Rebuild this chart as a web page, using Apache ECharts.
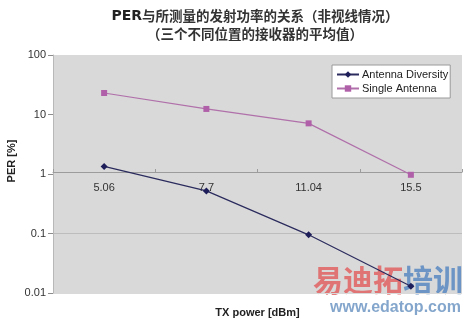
<!DOCTYPE html>
<html>
<head>
<meta charset="utf-8">
<script src="https://cdn.jsdelivr.net/npm/echarts@6/dist/echarts.min.js"></script>
<style>
  html, body { margin: 0; padding: 0; background: #fff; }
  #chart { width: 468px; height: 323px; }
</style>
</head>
<body>
<div id="chart"></div>
<script>
// ─── Data ───────────────────────────────────────────────────────────────────
const categories = ['5.06', '7.7', '11.04', '15.5'];
const antennaDiversity = [1.34, 0.52, 0.095, 0.013];
const singleAntenna = [23, 12.4, 7.1, 0.97];
const yTicks = [0.01, 0.1, 1, 10, 100];

const chart = echarts.init(document.getElementById('chart'), null, { renderer: 'canvas' });

const FONT = 'Liberation Sans, Arial, sans-serif';
const CJK = '"Noto Sans CJK SC", sans-serif';

chart.setOption({
  backgroundColor: '#ffffff',
  animation: false,
  title: {
    left: 250,
    top: 2,
    textAlign: 'center',
    text: '{b|PER}{c|与所测量的发射功率的关系（非视线情况）}\n{d|（三个不同位置的接收器的平均值）}',
    textStyle: {
      lineHeight: 18,
      rich: {
        b: { fontFamily: 'DejaVu Sans, sans-serif', fontWeight: 'bold', fontSize: 14, color: '#222' },
        c: { fontFamily: CJK, fontSize: 13.5, color: '#333' },
        d: { fontFamily: CJK, fontSize: 13.5, color: '#333' },
      },
    },
  },
  legend: {
    orient: 'vertical',
    left: 332,
    top: 65,
    padding: [4, 2, 4, 4],
    itemGap: 3,
    itemWidth: 22,
    itemHeight: 8,
    backgroundColor: '#ffffff',
    borderColor: '#9a9a9a',
    borderWidth: 1,
    textStyle: { fontFamily: FONT, fontSize: 11, color: '#222', padding: [0, 0, 0, -2] },
    data: ['Antenna Diversity', 'Single Antenna'],
  },
  grid: {
    left: 53, right: 6, top: 55, bottom: 30,
    outerBoundsMode: 'none',
    containLabel: false,
    show: true,
    backgroundColor: '#d9d9d9',
    borderWidth: 0,
  },
  xAxis: {
    type: 'category',
    data: categories,
    boundaryGap: true,
    position: 'bottom',
    offset: -121,
    name: 'TX power [dBm]',
    nameLocation: 'middle',
    nameGap: 135,
    nameTextStyle: { fontFamily: FONT, fontWeight: 'bold', fontSize: 11, color: '#222' },
    axisLine: { show: true, lineStyle: { color: '#9c9c9c', width: 1 } },
    axisTick: { show: true, inside: true, length: 3, lineStyle: { color: '#9c9c9c' } },
    axisLabel: { fontFamily: FONT, fontSize: 11, color: '#333', margin: 10 },
    splitLine: { show: false },
  },
  yAxis: {
    type: 'log',
    logBase: 10,
    min: 0.01,
    max: 100,
    axisLine: { show: true, lineStyle: { color: '#b8b8b8' } },
    axisTick: { show: true, length: 5, lineStyle: { color: '#8c8c8c' } },
    axisLabel: {
      fontFamily: FONT, fontSize: 11, color: '#333', margin: 7,
      formatter: v => {
        const t = yTicks.find(k => Math.abs(k - v) / k < 1e-6);
        return t === undefined ? '' : String(t);
      },
    },
    splitLine: {
      show: true,
      lineStyle: { color: ['#d9d9d9', '#bdbdbd', '#d9d9d9', '#d9d9d9', '#d9d9d9'], width: 1 },
    },
  },
  series: [
    {
      name: 'Antenna Diversity',
      type: 'line',
      data: antennaDiversity,
      symbol: 'diamond',
      symbolSize: 7,
      color: '#1e1e5a',
      lineStyle: { width: 1.2, color: '#2b2b5e' },
      itemStyle: { color: '#1e1e5a' },
    },
    {
      name: 'Single Antenna',
      type: 'line',
      data: singleAntenna,
      symbol: 'rect',
      symbolSize: 6,
      color: '#b060a8',
      lineStyle: { width: 1.2, color: '#b070aa' },
      itemStyle: { color: '#b060a8' },
    },
  ],
  graphic: [
    {
      // y-axis title, placed like the original (a bit above the axis middle)
      type: 'text', x: 12, y: 161, rotation: Math.PI / 2, silent: true,
      style: {
        text: 'PER [%]', fontFamily: FONT, fontWeight: 'bold', fontSize: 11, fill: '#222',
        align: 'center', verticalAlign: 'middle',
      },
    },
    {
      type: 'text', left: 313, top: 265, silent: true,
      style: {
        text: '{r|易迪拓}{b|培训}',
        rich: {
          r: { fontFamily: CJK, fontWeight: 'bold', fontSize: 30, fill: 'rgba(225,90,90,0.8)' },
          b: { fontFamily: CJK, fontWeight: 'bold', fontSize: 30, fill: 'rgba(80,130,190,0.8)' },
        },
      },
    },
    {
      type: 'text', left: 330, top: 300, silent: true,
      style: {
        text: 'www.edatop.com',
        fontFamily: FONT, fontWeight: 'bold', fontSize: 16,
        fill: 'rgba(110,150,195,0.85)',
      },
    },
  ],
});
</script>
</body>
</html>
